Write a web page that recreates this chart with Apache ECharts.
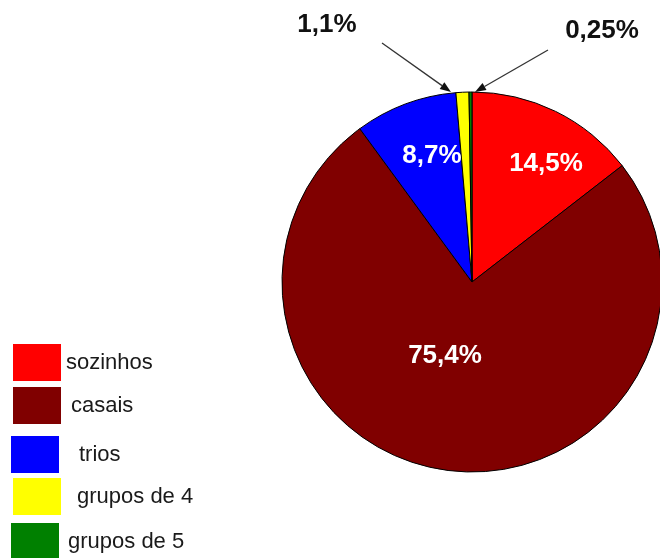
<!DOCTYPE html>
<html>
<head>
<meta charset="utf-8">
<style>
  html, body { margin: 0; padding: 0; background: #fff; }
  #chart { width: 660px; height: 558px; }
</style>
<script src="https://cdn.jsdelivr.net/npm/echarts@6/dist/echarts.min.js"></script>
</head>
<body>
<div id="chart"></div>
<script>
// Distribuição dos grupos (percentagens)
const categories = ['sozinhos', 'casais', 'trios', 'grupos de 4', 'grupos de 5'];
const shares = [14.5, 75.4, 8.7, 1.1, 0.25];
const colors = ['#ff0000', '#800000', '#0000ff', '#ffff00', '#008000'];

// Layout: label centres (same order as categories), legend boxes and arrow callouts
const labelPos = [[546, 164], [445, 356], [432, 156], [327, 25], [602, 31]];
const legendBox = [[13, 344], [13, 387], [11, 436], [13, 478], [11, 523]];
const legendTextPad = [0, 5, 15, 11, 4];
const arrowLines = [[[382, 43], [451, 92]], [[548, 50], [475, 92]]];

const fmt = v => String(v).replace('.', ',') + '%';

function arrowGraphic(seg) {
  const [a, b] = seg;
  const dx = b[0] - a[0], dy = b[1] - a[1];
  const len = Math.hypot(dx, dy);
  const ux = dx / len, uy = dy / len;
  const head = 11, half = 4;
  const bx = b[0] - ux * head, by = b[1] - uy * head;
  return [
    {
      type: 'line',
      shape: { x1: a[0], y1: a[1], x2: bx, y2: by },
      style: { stroke: '#333', lineWidth: 1.3 }
    },
    {
      type: 'polygon',
      shape: { points: [[b[0], b[1]], [bx - uy * half, by + ux * half], [bx + uy * half, by - ux * half]] },
      style: { fill: '#111' }
    }
  ];
}

const chart = echarts.init(document.getElementById('chart'), null, { renderer: 'canvas' });

const option = {
  animation: false,
  color: colors,
  legend: categories.map((name, i) => ({
    data: [name],
    left: legendBox[i][0],
    top: legendBox[i][1],
    padding: 0,
    itemWidth: 48,
    itemHeight: 37,
    icon: 'rect',
    selectedMode: false,
    itemStyle: { borderWidth: 0 },
    formatter: '{t|{name}}',
    textStyle: {
      fontFamily: 'Liberation Sans, Arial, sans-serif',
      fontSize: 22,
      color: '#1a1a1a',
      rich: { t: { fontFamily: 'Liberation Sans, Arial, sans-serif', fontSize: 22, color: '#1a1a1a', padding: [0, 0, 0, legendTextPad[i]] } }
    }
  })),
  series: [{
    type: 'pie',
    center: [472, 282],
    radius: 190,
    startAngle: 90,
    clockwise: true,
    avoidLabelOverlap: false,
    selectedMode: false,
    silent: true,
    itemStyle: { borderColor: '#000', borderWidth: 1 },
    label: {
      show: true,
      position: 'inside',
      formatter: p => fmt(p.value),
      fontFamily: 'Liberation Sans, Arial, sans-serif',
      fontWeight: 'bold',
      fontSize: 26
    },
    labelLine: { show: false },
    labelLayout: p => {
      const [x, y] = labelPos[p.dataIndex];
      return { x: x, y: y, align: 'center', verticalAlign: 'middle' };
    },
    data: categories.map((name, i) => ({
      name: name,
      value: shares[i],
      label: { color: i < 3 ? '#ffffff' : '#111111' }
    }))
  }],
  graphic: arrowLines.flatMap(arrowGraphic)
};

chart.setOption(option);
</script>
</body>
</html>
